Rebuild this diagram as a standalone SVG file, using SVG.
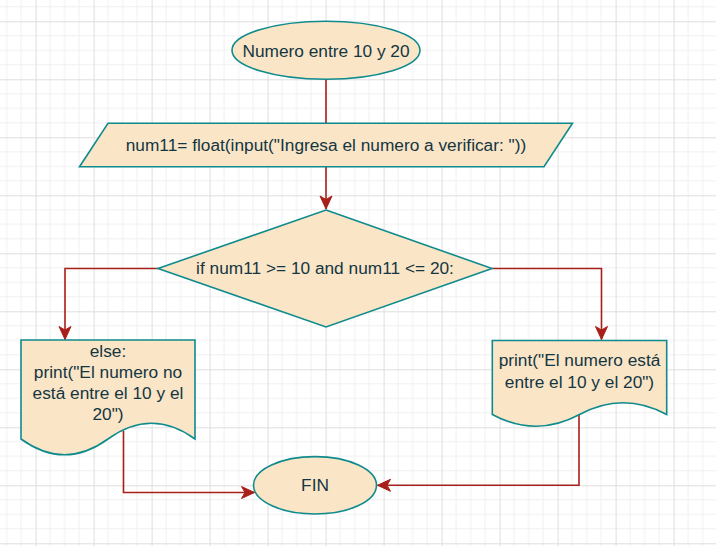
<svg xmlns="http://www.w3.org/2000/svg" width="716" height="546" viewBox="0 0 716 546">
  <defs>
    <pattern id="grid" patternUnits="userSpaceOnUse" x="35.6" y="21.3" width="58" height="58">
      <path d="M14.5,0V58M29,0V58M43.5,0V58M0,14.5H58M0,29H58M0,43.5H58" stroke="#f0f0f0" stroke-width="1" fill="none"/>
      <path d="M0.5,0V58M0,0.5H58" stroke="#dedede" stroke-width="1" fill="none"/>
    </pattern>
    <marker id="arrow" markerUnits="userSpaceOnUse" markerWidth="16" markerHeight="16" viewBox="-14 -7 16 14" refX="0" refY="0" orient="auto">
      <path d="M0,0 L-13,-6 L-9.5,0 L-13,6 Z" fill="#A8201A" stroke="#A8201A" stroke-width="1"/>
    </marker>
    <style>
      .shape { fill: #FAE5C7; stroke: #0F8B8D; stroke-width: 1.6; }
      .label { font-family: "Liberation Sans", Arial, sans-serif; font-size: 17.3px; fill: #143642; text-anchor: middle; }
      .edge { fill: none; stroke: #A8201A; stroke-width: 1.6; }
    </style>
  </defs>
  <rect x="0" y="0" width="716" height="546" fill="#ffffff"/>
  <rect x="0" y="0" width="716" height="546" fill="url(#grid)"/>

  <g id="connectors">
    <path class="edge" d="M326,79.5 V123"/>
    <path class="edge" d="M326,167 V209" marker-end="url(#arrow)"/>
    <path class="edge" d="M158,268.5 H65 V339.5" marker-end="url(#arrow)"/>
    <path class="edge" d="M492,268.5 H601.5 V339.5" marker-end="url(#arrow)"/>
    <path class="edge" d="M123.5,431 V492.5 H254.5" marker-end="url(#arrow)"/>
    <path class="edge" d="M579,414 V485.3 H377.5" marker-end="url(#arrow)"/>
  </g>

  <g id="start">
    <ellipse class="shape" cx="326" cy="50.3" rx="94" ry="29"/>
    <text class="label" x="326" y="56.5">Numero entre 10 y 20</text>
  </g>

  <g id="input">
    <polygon class="shape" points="108,123.3 572.5,123.3 544,166.7 79.5,166.7"/>
    <text class="label" x="326" y="150.5">num11= float(input("Ingresa el numero a verificar: "))</text>
  </g>

  <g id="decision">
    <polygon class="shape" points="326,210 492,268.5 326,327 158,268.5"/>
    <text class="label" x="325" y="274.3">if num11 &gt;= 10 and num11 &lt;= 20:</text>
  </g>

  <g id="else-output">
    <path class="shape" d="M21,340 H195 V439 Q151.5,407.5 108,439 Q64.5,470.5 21,439 Z"/>
    <text class="label" x="108" y="356.5">else:</text>
    <text class="label" x="108" y="377.5">print("El numero no</text>
    <text class="label" x="108" y="398.5">está entre el 10 y el</text>
    <text class="label" x="108" y="419.5">20")</text>
  </g>

  <g id="if-output">
    <path class="shape" d="M492.3,340.5 H666.7 V414.5 Q623.1,391 579.5,414.5 Q535.9,438 492.3,414.5 Z"/>
    <text class="label" x="579.5" y="366">print("El numero está</text>
    <text class="label" x="579.5" y="388">entre el 10 y el 20")</text>
  </g>

  <g id="end">
    <ellipse class="shape" cx="315" cy="485.3" rx="61.5" ry="28.7"/>
    <text class="label" x="315" y="491">FIN</text>
  </g>
</svg>
